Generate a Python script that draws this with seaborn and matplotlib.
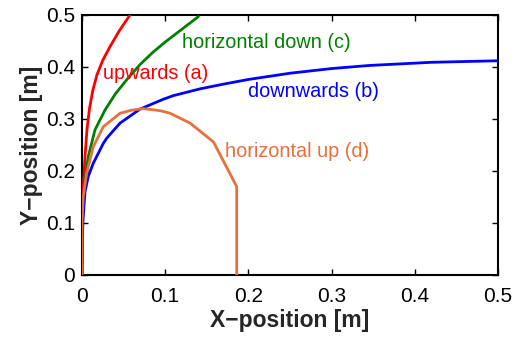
import numpy as np
import pandas as pd
import seaborn as sns
import matplotlib.pyplot as plt

# trajectories, [m]
up_x = [0, 0.0005, 0.0016, 0.0036, 0.006, 0.009, 0.013, 0.018, 0.025, 0.034, 0.045, 0.0577]
up_y = [0, 0.1, 0.17, 0.227, 0.28, 0.32, 0.355, 0.385, 0.413, 0.44, 0.47, 0.5]

hdown_x = [0, 0.001, 0.0036, 0.0076, 0.0156, 0.0276, 0.04, 0.054, 0.07, 0.085, 0.1, 0.118, 0.14]
hdown_y = [0, 0.12, 0.183, 0.228, 0.279, 0.317, 0.348, 0.376, 0.405, 0.428, 0.448, 0.47, 0.497]

down_x = [0, 0.001, 0.0036, 0.0076, 0.0136, 0.0256, 0.0297, 0.0457, 0.0697, 0.0978, 0.11,
          0.142, 0.17, 0.2, 0.25, 0.3, 0.346, 0.42, 0.5]
down_y = [0, 0.1, 0.16, 0.19, 0.215, 0.253, 0.263, 0.292, 0.319, 0.338, 0.345,
          0.358, 0.367, 0.376, 0.388, 0.397, 0.403, 0.409, 0.412]

hup_x = [0, 0, 0.0015, 0.0056, 0.0136, 0.0256, 0.0457, 0.06, 0.0737, 0.0938, 0.106, 0.13,
         0.158, 0.186, 0.186]
hup_y = [0, 0.1, 0.15, 0.196, 0.247, 0.285, 0.311, 0.317, 0.32, 0.316, 0.311, 0.292,
         0.256, 0.17, 0]

names = ["upwards (a)", "horizontal down (c)", "downwards (b)", "horizontal up (d)"]
colors = ["#ff0000", "#008000", "#0000ff", "#e8703a"]
label_pos = [(0.025, 0.388), (0.12, 0.448), (0.199, 0.352), (0.172, 0.237)]

frames = []
for n, xs, ys in zip(names, [up_x, hdown_x, down_x, hup_x], [up_y, hdown_y, down_y, hup_y]):
    frames.append(pd.DataFrame({"x": xs, "y": ys, "case": n}))
df = pd.concat(frames, ignore_index=True)

sns.set_style("white")
plt.rcParams['font.family'] = ['Liberation Sans', 'DejaVu Sans']

fig = plt.figure(figsize=(5.16, 3.37), dpi=100)
ax = fig.add_axes([0.1589, 0.184, 0.806, 0.7715])

sns.lineplot(data=df, x="x", y="y", hue="case", hue_order=names,
             palette=dict(zip(names, colors)), sort=False, estimator=None,
             units="case", linewidth=2.0, legend=False, ax=ax, zorder=3)

for n, c, (lx, ly) in zip(names, colors, label_pos):
    ax.text(lx, ly, n, color=c, fontsize=14.3, va="center", ha="left")

ticks = [0, 0.1, 0.2, 0.3, 0.4, 0.5]
tick_labels = ["0", "0.1", "0.2", "0.3", "0.4", "0.5"]
ax.set_xlim(0, 0.5)
ax.set_ylim(0, 0.5)
ax.set_xticks(ticks)
ax.set_xticklabels(tick_labels)
ax.set_yticks(ticks)
ax.set_yticklabels(tick_labels)
ax.tick_params(direction="in", bottom=True, left=True, top=True, right=True,
               length=4, width=1, labelsize=15, colors="black")
ax.tick_params(axis="x", pad=9)
ax.tick_params(axis="y", pad=5)
for s in ax.spines.values():
    s.set_color("black")
    s.set_linewidth(1.5)

ax.set_xlabel("X\u2212position [m]", fontsize=16.5, fontweight="bold", labelpad=2)
ax.set_ylabel("Y\u2212position [m]", fontsize=16.5, fontweight="bold", labelpad=2)

fig.savefig("out.png", dpi=100)
